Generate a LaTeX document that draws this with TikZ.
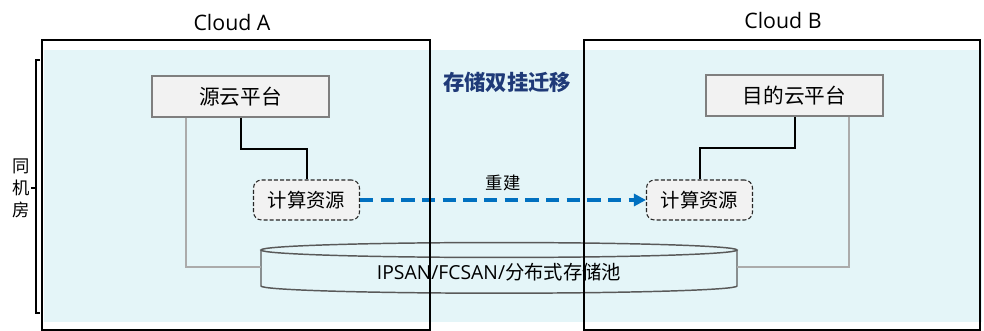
\documentclass[tikz,border=0pt]{standalone}
\usepackage{fontspec}
\setmainfont{Open Sans}
\newfontfamily\cjk{Noto Sans CJK SC}
\usetikzlibrary{arrows.meta}
\definecolor{bgcyan}{HTML}{E4F5F8}
\definecolor{boxfill}{HTML}{F2F2F2}
\definecolor{boxline}{HTML}{7F7F7F}
\definecolor{lightline}{HTML}{ABABAB}
\definecolor{poolline}{HTML}{595959}
\definecolor{arrowblue}{HTML}{0070C0}
\definecolor{titleblue}{HTML}{1F3A78}
\begin{document}
\begin{tikzpicture}[x=0.75pt,y=-0.75pt,
  platform/.style={draw=boxline, line width=1.5pt, fill=boxfill, minimum width=132.75pt,
    minimum height=30.75pt, inner sep=0pt, font=\cjk\fontsize{15.5}{18}\selectfont},
  compute/.style={draw=black!85, dash pattern=on 3pt off 1.6pt, line width=0.8pt,
    rounded corners=6pt, fill=boxfill, minimum width=79.5pt, minimum height=30pt, inner sep=0pt,
    font=\cjk\fontsize{14.5}{17}\selectfont},
  cloudbox/.style={draw=black, line width=1.5pt, inner sep=0pt, minimum height=217.5pt},
  cloudlabel/.style={font=\fontsize{16}{19}\selectfont, inner sep=0pt},
  blkline/.style={draw=black, line width=1.5pt},
  greyline/.style={draw=lightline, line width=1.3pt},
  migrate/.style={draw=arrowblue, line width=2.3pt, dash pattern=on 10pt off 5.5pt,
    -{Triangle[length=9pt,width=9pt]}},
  cjklabel/.style={font=\cjk\fontsize{13}{22}\selectfont, inner sep=0pt, align=center}
]
\useasboundingbox (0,0) rectangle (984,331);
% background
\fill[bgcyan] (44,50) rectangle (982,322);

% side bracket
\draw[black, line width=1.2pt] (40,60) -- (36,60) -- (36,313) -- (40,313);
\draw[black, line width=1.2pt] (36,188) -- (31,188);
\node[cjklabel, font=\cjk\fontsize{13}{16.5}\selectfont] (room) at (21,188) {同\\机\\房};

% title
\node[font=\cjk\bfseries\fontsize{16}{19}\selectfont, text=titleblue, inner sep=0pt] (title) at (507,82) {存储双挂迁移};

% storage pool (cylinder)
\draw[poolline, line width=1.1pt] (499,250) ellipse [x radius=178.5pt, y radius=5.6pt];
\draw[poolline, line width=1.1pt] (261,250) -- (261,286)
   arc[start angle=180, end angle=360, x radius=178.5pt, y radius=5.4pt] -- (737,250);
\node[inner sep=0pt, font=\fontsize{14.5}{17}\selectfont] (pool) at (499,272)
   {IPSAN/FCSAN/{\cjk 分布式存储池}};
\coordinate (poolL) at (261,267);
\coordinate (poolR) at (737,267);

% platforms and compute resources
\node[platform] (src) at (240.5,96.5) {源云平台};
\node[platform] (dst) at (794.5,95.5) {目的云平台};
\node[compute] (cA) at (306.5,200) {计算资源};
\node[compute] (cB) at (699.5,200) {计算资源};

% connectors
\draw[blkline] (src.south) -- ++(0,31) -| (cA.north);
\draw[blkline] (dst.south) -- ++(0,31) -| (cB.north);
\draw[greyline] ([xshift=-40.9pt]src.south) |- (poolL);
\draw[greyline] ([xshift=40.9pt]dst.south) |- (poolR);
\draw[migrate] (cA.east) -- (cB.west)
   node[midway, yshift=12.75pt, cjklabel] (rebuild) {重建};

% cloud boxes on top
\node[cloudbox, minimum width=291pt] (cloudA) at (236,185) {};
\node[cloudbox, minimum width=297pt] (cloudB) at (782,185) {};
\node[cloudlabel] (labA) at (232,23) {Cloud A};
\node[cloudlabel] (labB) at (783,21) {Cloud B};
\end{tikzpicture}
\end{document}
